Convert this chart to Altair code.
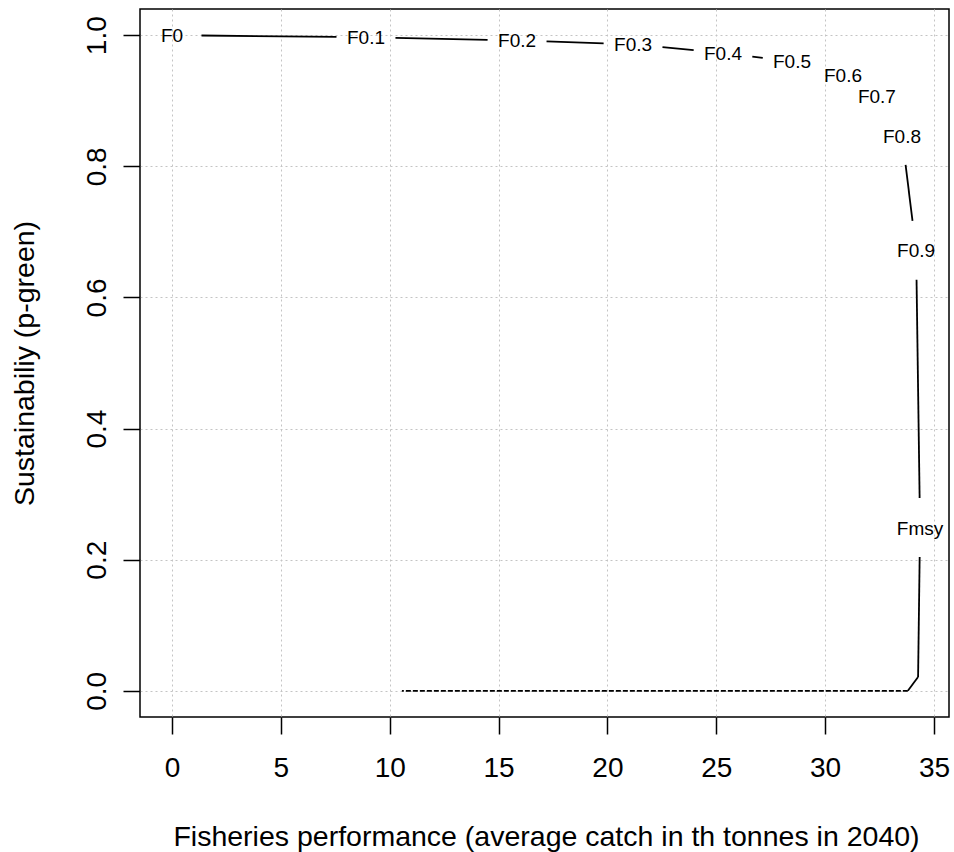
import math
import altair as alt
import pandas as pd

# Fishing-mortality scenarios: catch (th tonnes, 2040) vs probability of green status
f_labels = ["F0", "F0.1", "F0.2", "F0.3", "F0.4", "F0.5", "F0.6", "F0.7", "F0.8", "F0.9", "Fmsy"]
catch = [0.0, 8.91, 15.85, 21.18, 25.31, 28.48, 30.82, 32.38, 33.53, 34.18, 34.36]
p_green = [1.0, 0.997, 0.992, 0.986, 0.973, 0.960, 0.939, 0.908, 0.847, 0.672, 0.249]

# Continuation beyond Fmsy (solid) and the collapsed-stock stretch (dashed)
tail_catch = [34.36, 34.27, 33.80]
tail_p = [0.249, 0.021, 0.0]
dash_catch = [33.80, 10.56]
dash_p = [0.0, 0.0]

x_ticks = [0, 5, 10, 15, 20, 25, 30, 35]
y_ticks = [0.0, 0.2, 0.4, 0.6, 0.8, 1.0]

X_DOMAIN = [-1.47, 35.69]
Y_DOMAIN = [-0.04, 1.04]
W, H = 809, 708
GAP = 29.5  # blank radius (px) left around each label, as in type="b"

px_x = W / (X_DOMAIN[1] - X_DOMAIN[0])
px_y = H / (Y_DOMAIN[1] - Y_DOMAIN[0])


def trimmed(x1, y1, x2, y2, gap1, gap2):
    dx, dy = (x2 - x1) * px_x, (y2 - y1) * px_y
    d = math.hypot(dx, dy)
    if d <= gap1 + gap2:
        return None
    a, b = gap1 / d, 1 - gap2 / d
    return dict(x=x1 + (x2 - x1) * a, y=y1 + (y2 - y1) * a,
                x2=x1 + (x2 - x1) * b, y2=y1 + (y2 - y1) * b)


segs = []
for i in range(len(catch) - 1):
    s = trimmed(catch[i], p_green[i], catch[i + 1], p_green[i + 1], GAP, GAP)
    if s:
        segs.append(s)
for i in range(len(tail_catch) - 1):
    s = trimmed(tail_catch[i], tail_p[i], tail_catch[i + 1], tail_p[i + 1],
                GAP if i == 0 else 0, 0)
    if s:
        segs.append(s)
seg_df = pd.DataFrame(segs)

dash_df = pd.DataFrame({"catch": dash_catch, "p": dash_p, "o": range(len(dash_catch))})
lab_df = pd.DataFrame({"label": f_labels, "catch": catch, "p": p_green})

FONT = "Liberation Sans"
GRID = "#c4c4c4"

x_scale = alt.Scale(domain=X_DOMAIN, nice=False, zero=False)
y_scale = alt.Scale(domain=Y_DOMAIN, nice=False, zero=False)

x_axis = alt.Axis(
    values=x_ticks, title="Fisheries performance (average catch in th tonnes in 2040)",
    grid=True, gridColor=GRID, gridDash=[2, 3], gridWidth=1,
    domain=False, ticks=True, tickSize=17, tickColor="black", tickWidth=1.5,
    labelFont=FONT, labelFontSize=28, labelColor="black", labelPadding=20,
    labelFlush=False, labelBaseline="top",
    titleFont=FONT, titleFontSize=28.5, titleFontWeight="normal", titleColor="black",
    titleBaseline="alphabetic", titleY=128, titleX=406,
)
y_axis = alt.Axis(
    values=y_ticks, format=".1f", title="Sustainabiliy (p-green)",
    grid=True, gridColor=GRID, gridDash=[2, 3], gridWidth=1,
    domain=False, ticks=True, tickSize=17, tickColor="black", tickWidth=1.5,
    labelFont=FONT, labelFontSize=28, labelColor="black", labelPadding=18,
    labelAngle=270, labelAlign="center", labelBaseline="alphabetic", labelFlush=False,
    titleFont=FONT, titleFontSize=28.5, titleFontWeight="normal", titleColor="black",
    titleAngle=270, titleAlign="center", titleBaseline="alphabetic",
    titleX=-107, titleY=H / 2,
)

base_x = alt.X("x:Q", scale=x_scale, axis=x_axis)
base_y = alt.Y("y:Q", scale=y_scale, axis=y_axis)

solid = alt.Chart(seg_df).mark_rule(color="black", strokeWidth=1.8).encode(
    x=base_x, y=base_y, x2="x2:Q", y2="y2:Q"
)

dashed = alt.Chart(dash_df).mark_line(
    color="black", strokeWidth=1.8, strokeDash=[5, 2]
).encode(
    x=alt.X("catch:Q", scale=x_scale, axis=x_axis),
    y=alt.Y("p:Q", scale=y_scale, axis=y_axis),
    order="o:Q",
)

labels = alt.Chart(lab_df).mark_text(
    font=FONT, fontSize=19, color="black", align="center", baseline="middle", dy=1
).encode(
    x=alt.X("catch:Q", scale=x_scale, axis=x_axis),
    y=alt.Y("p:Q", scale=y_scale, axis=y_axis),
    text="label:N",
)

chart = alt.layer(solid, dashed, labels).properties(
    width=W, height=H,
    autosize=alt.AutoSizeParams(type="none"),
    padding={"left": 140, "top": 9, "right": 5, "bottom": 135},
    background="white",
).configure_view(stroke="black", strokeWidth=1.5)

chart.save("out.html", embed_options={"renderer": "svg", "actions": False})
